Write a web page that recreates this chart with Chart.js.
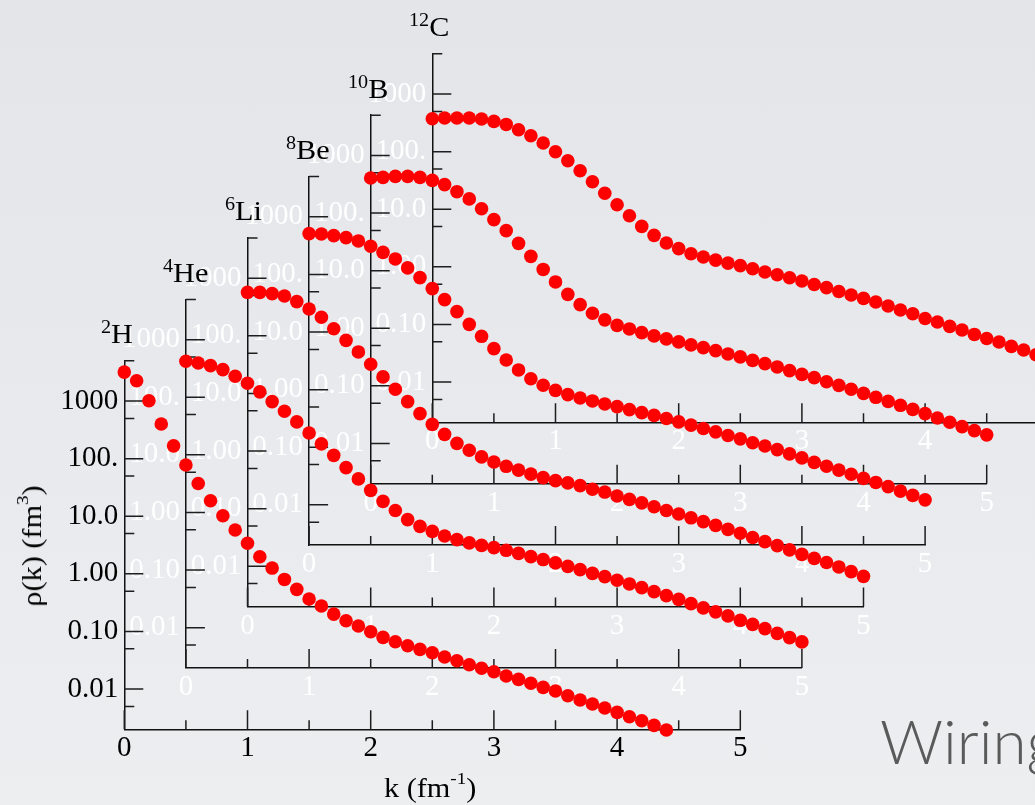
<!DOCTYPE html>
<html>
<head>
<meta charset="utf-8">
<script src="https://cdn.jsdelivr.net/npm/chart.js@4/dist/chart.umd.min.js"></script>
<style>
  html, body { margin: 0; padding: 0; }
  body {
    width: 1035px; height: 805px; overflow: hidden; position: relative;
    background: linear-gradient(180deg, #e4e5e9 0%, #eceef0 100%);
    font-family: 'Liberation Serif', 'Times New Roman', serif;
  }
  canvas { position: absolute; left: 0; top: 0; }
  .lbl {
    position: absolute; font-size: 27px; line-height: 27px; color: #000;
    white-space: nowrap; transform-origin: 0 100%; transform: scaleX(1.12); z-index: 20;
  }
  .lbl .up { font-size: 18px; position: relative; top: -10px; }
  .ytitle {
    position: absolute; width: 220px; text-align: center; font-size: 27px; line-height: 27px;
    color: #000; white-space: nowrap; transform: rotate(-90deg) scaleX(1.12); z-index: 20;
  }
  .ytitle .up, .xtitle .up { font-size: 17px; position: relative; top: -13px; }
  .xtitle {
    position: absolute; font-size: 27px; line-height: 27px; color: #000;
    white-space: nowrap; transform-origin: 0 100%; transform: scaleX(1.12); z-index: 20;
  }
  .brand {
    position: absolute; left: 880px; top: 700px; font-family: Lato, 'Open Sans', sans-serif;
    font-weight: 300; font-size: 62px; line-height: 80px; color: #5a5a5a; white-space: nowrap; z-index: 20;
  }
</style>
</head>
<body>
<div class="brand">Wiring</div>
<script>
// Momentum grid, k in fm^-1
const k = [0.0, 0.1, 0.2, 0.3, 0.4, 0.5, 0.6, 0.7, 0.8, 0.9,
           1.0, 1.1, 1.2, 1.3, 1.4, 1.5, 1.6, 1.7, 1.8, 1.9,
           2.0, 2.1, 2.2, 2.3, 2.4, 2.5, 2.6, 2.7, 2.8, 2.9,
           3.0, 3.1, 3.2, 3.3, 3.4, 3.5, 3.6, 3.7, 3.8, 3.9,
           4.0, 4.1, 4.2, 4.3, 4.4, 4.5, 4.6, 4.7, 4.8, 4.9, 5.0];

// Single-nucleon momentum distributions rho(k), fm^3
const rhoH2 = [3180, 2250, 1010, 399, 167, 77.4, 37.0, 18.6, 10.2, 5.76,
               3.39, 1.98, 1.26, 0.80, 0.538, 0.365, 0.276, 0.200, 0.153, 0.124,
               0.0989, 0.0790, 0.0663, 0.0565, 0.0489, 0.0427, 0.0360, 0.0310, 0.0264, 0.0229,
               0.0200, 0.0168, 0.0147, 0.0126, 0.0107, 0.00923, 0.00765, 0.00645, 0.00549, 0.00468,
               0.00394, 0.00330, 0.00282, 0.00234, 0.00194];
const rhoHe4 = [421, 394, 354, 302, 231, 175, 124, 84, 57, 37.3,
                24.0, 15.5, 9.8, 6.0, 3.82, 2.42, 1.56, 1.08, 0.75, 0.574,
                0.470, 0.391, 0.337, 0.296, 0.268, 0.245, 0.220, 0.195, 0.171, 0.152,
                0.133, 0.116, 0.1016, 0.0877, 0.0769, 0.0664, 0.0574, 0.0495, 0.0422, 0.0360,
                0.0310, 0.0261, 0.0220, 0.0188, 0.0160, 0.0134, 0.0114, 0.00962, 0.00796, 0.00671, 0.00565];
const rhoLi6 = [570, 568, 541, 493, 393, 293, 210, 133, 83.6, 52.6,
                32.1, 19.4, 11.8, 7.21, 4.47, 2.91, 1.95, 1.36, 1.03, 0.791,
                0.647, 0.543, 0.467, 0.397, 0.346, 0.307, 0.280, 0.251, 0.217, 0.194,
                0.166, 0.145, 0.126, 0.108, 0.0931, 0.0809, 0.0693, 0.0596, 0.0512, 0.0436,
                0.0373, 0.0316, 0.0268, 0.0228, 0.0192, 0.0161, 0.0137, 0.0116, 0.00973, 0.00807, 0.00668];
const rhoBe8 = [512, 505, 472, 436, 382, 308, 242, 186, 130, 88.1,
                56.8, 36.6, 22.6, 13.6, 8.43, 5.15, 3.28, 2.20, 1.55, 1.19,
                0.973, 0.820, 0.718, 0.637, 0.565, 0.507, 0.450, 0.399, 0.357, 0.316,
                0.276, 0.242, 0.212, 0.185, 0.160, 0.140, 0.120, 0.105, 0.0910, 0.0766,
                0.0653, 0.0547, 0.0467, 0.0401, 0.0339, 0.0288, 0.0245, 0.0207, 0.0173, 0.0146, 0.0122];
const rhoB10 = [407, 417, 434, 434, 417, 370, 312, 235, 176, 119,
                76.9, 49.5, 29.8, 17.7, 10.5, 6.37, 3.88, 2.57, 1.82, 1.40,
                1.12, 0.973, 0.839, 0.736, 0.653, 0.579, 0.514, 0.461, 0.409, 0.358,
                0.318, 0.277, 0.243, 0.213, 0.184, 0.158, 0.139, 0.118, 0.102, 0.0871,
                0.0741, 0.0632, 0.0538, 0.0459, 0.0391, 0.0330, 0.0277, 0.0233, 0.0196, 0.0167, 0.0141];
const rhoC12 = [373, 384, 384, 384, 368, 335, 297, 240, 189, 141,
                99.7, 69.5, 46.7, 30.1, 19.0, 12.0, 7.73, 5.04, 3.52, 2.59,
                2.07, 1.69, 1.48, 1.31, 1.16, 1.05, 0.927, 0.813, 0.730, 0.647,
                0.568, 0.495, 0.435, 0.374, 0.324, 0.283, 0.245, 0.209, 0.178, 0.153,
                0.127, 0.110, 0.0925, 0.0800, 0.0671, 0.0571, 0.0495, 0.0416, 0.0360, 0.0298];

// Nucleus names: mass number and element symbol
const massNumbers = ['2', '4', '6', '8', '10', '12'];
const symbols = ['H', 'He', 'Li', 'Be', 'B', 'C'];

// Axis ticks and their labels
const yTickValues = [0.01, 0.1, 1, 10, 100, 1000];
const yTickLabels = ['0.01', '0.10', '1.00', '10.0', '100.', '1000'];
const yMinorTicks = [0.005, 0.05, 0.5, 5, 50, 500, 5000];
const xTickValues = [0, 1, 2, 3, 4, 5];
const xTickLabels = ['0', '1', '2', '3', '4', '5'];
const xMinorTicks = [0.5, 1.5, 2.5, 3.5, 4.5];

const series = [rhoH2, rhoHe4, rhoLi6, rhoBe8, rhoB10, rhoC12];

// Layout of the staggered panels (front panel first)
const CANVAS_W = 1100, CANVAS_H = 805;
const PANEL_X0 = 124.3, PANEL_DX = 61.6;
const PANEL_YB = 729.3, PANEL_DY = 61.4;
const PLOT_W = 616, PLOT_H = 368.5;
const Y_BOX = 80, X_BOX = 40;

function fmtY(v) {
  const i = yTickValues.findIndex(t => Math.abs(Math.log10(t) - Math.log10(v)) < 1e-6);
  return i >= 0 ? yTickLabels[i] : '';
}
function fmtX(v) {
  const i = xTickValues.findIndex(t => Math.abs(t - v) < 1e-6);
  return i >= 0 ? xTickLabels[i] : '';
}
const isMajorY = v => yTickValues.some(t => Math.abs(Math.log10(t) - Math.log10(v)) < 1e-6);
const isMajorX = v => xTickValues.some(t => Math.abs(t - v) < 1e-6);

// Tick marks drawn on the inside of the frame
const inwardTicks = {
  id: 'inwardTicks',
  beforeDatasetsDraw(chart) {
    const { ctx, chartArea: a, scales: { x, y } } = chart;
    ctx.save();
    ctx.strokeStyle = '#1e1e1e';
    ctx.lineWidth = 1.5;
    ctx.beginPath();
    y.ticks.forEach(t => {
      const py = y.getPixelForValue(t.value);
      const len = isMajorY(t.value) ? 19 : 10;
      ctx.moveTo(a.left, py); ctx.lineTo(a.left + len, py);
    });
    x.ticks.forEach(t => {
      const px = x.getPixelForValue(t.value);
      const len = isMajorX(t.value) ? 19 : 9;
      ctx.moveTo(px, a.bottom); ctx.lineTo(px, a.bottom - len);
    });
    ctx.stroke();
    ctx.restore();
  }
};

const charts = [];
for (let i = series.length - 1; i >= 0; i--) {
  const canvas = document.createElement('canvas');
  canvas.width = CANVAS_W;
  canvas.height = CANVAS_H;
  canvas.style.zIndex = String(10 - i);
  document.body.appendChild(canvas);

  const x0 = PANEL_X0 + PANEL_DX * i;
  const yb = PANEL_YB - PANEL_DY * i;
  const labelColor = i === 0 ? '#000000' : '#ffffff';
  const tickFont = { family: "'Liberation Serif', 'Times New Roman', serif", size: 29 };

  charts[i] = new Chart(canvas, {
    type: 'scatter',
    data: {
      datasets: [{
        data: series[i].map((v, j) => ({ x: k[j], y: v })),
        pointRadius: 6.8,
        pointBackgroundColor: '#ff0000',
        pointBorderWidth: 0,
        showLine: false,
        clip: false
      }]
    },
    options: {
      responsive: false,
      animation: false,
      devicePixelRatio: 1,
      events: [],
      layout: {
        padding: {
          left: x0 - Y_BOX,
          right: CANVAS_W - x0 - PLOT_W,
          top: yb - PLOT_H,
          bottom: CANVAS_H - yb - X_BOX
        }
      },
      plugins: { legend: { display: false }, tooltip: { enabled: false } },
      scales: {
        x: {
          type: 'linear', min: 0, max: 5,
          grid: { display: false, drawTicks: false },
          border: { display: true, color: '#111111', width: 1.5 },
          afterBuildTicks: s => {
            s.ticks = xTickValues.concat(xMinorTicks).sort((a, b) => a - b).map(v => ({ value: v }));
          },
          afterFit: s => { s.height = X_BOX; },
          ticks: {
            autoSkip: false, maxRotation: 0, padding: 2,
            color: labelColor, font: tickFont,
            callback: v => fmtX(v)
          }
        },
        y: {
          type: 'logarithmic', min: 0.002, max: 5000,
          grid: { display: false, drawTicks: false },
          border: { display: true, color: '#111111', width: 1.5 },
          afterBuildTicks: s => {
            s.ticks = yTickValues.concat(yMinorTicks).sort((a, b) => a - b).map(v => ({ value: v }));
          },
          afterFit: s => { s.width = Y_BOX; },
          ticks: {
            autoSkip: false, padding: 6,
            color: labelColor, font: tickFont,
            callback: v => fmtY(v)
          }
        }
      }
    },
    plugins: [inwardTicks]
  });
}

// Nucleus name above each panel's y axis
charts.forEach((c, i) => {
  const a = c.chartArea;
  const d = document.createElement('div');
  d.className = 'lbl';
  d.innerHTML = '<span class="up">' + massNumbers[i] + '</span>' + symbols[i];
  d.style.left = (a.left - 23) + 'px';
  d.style.top = (a.top - 17 - 22.6) + 'px';
  document.body.appendChild(d);
});

// Axis titles
const xt = document.createElement('div');
xt.className = 'xtitle';
xt.innerHTML = 'k (fm<span class="up">-1</span>)';
xt.style.left = '384px';
xt.style.top = (798 - 22.6) + 'px';
document.body.appendChild(xt);

const yt = document.createElement('div');
yt.className = 'ytitle';
yt.innerHTML = '\u03c1(k) (fm<span class="up">3</span>)';
yt.style.left = (34 - 110) + 'px';
yt.style.top = (544 - 13.5) + 'px';
document.body.appendChild(yt);
</script>
</body>
</html>
